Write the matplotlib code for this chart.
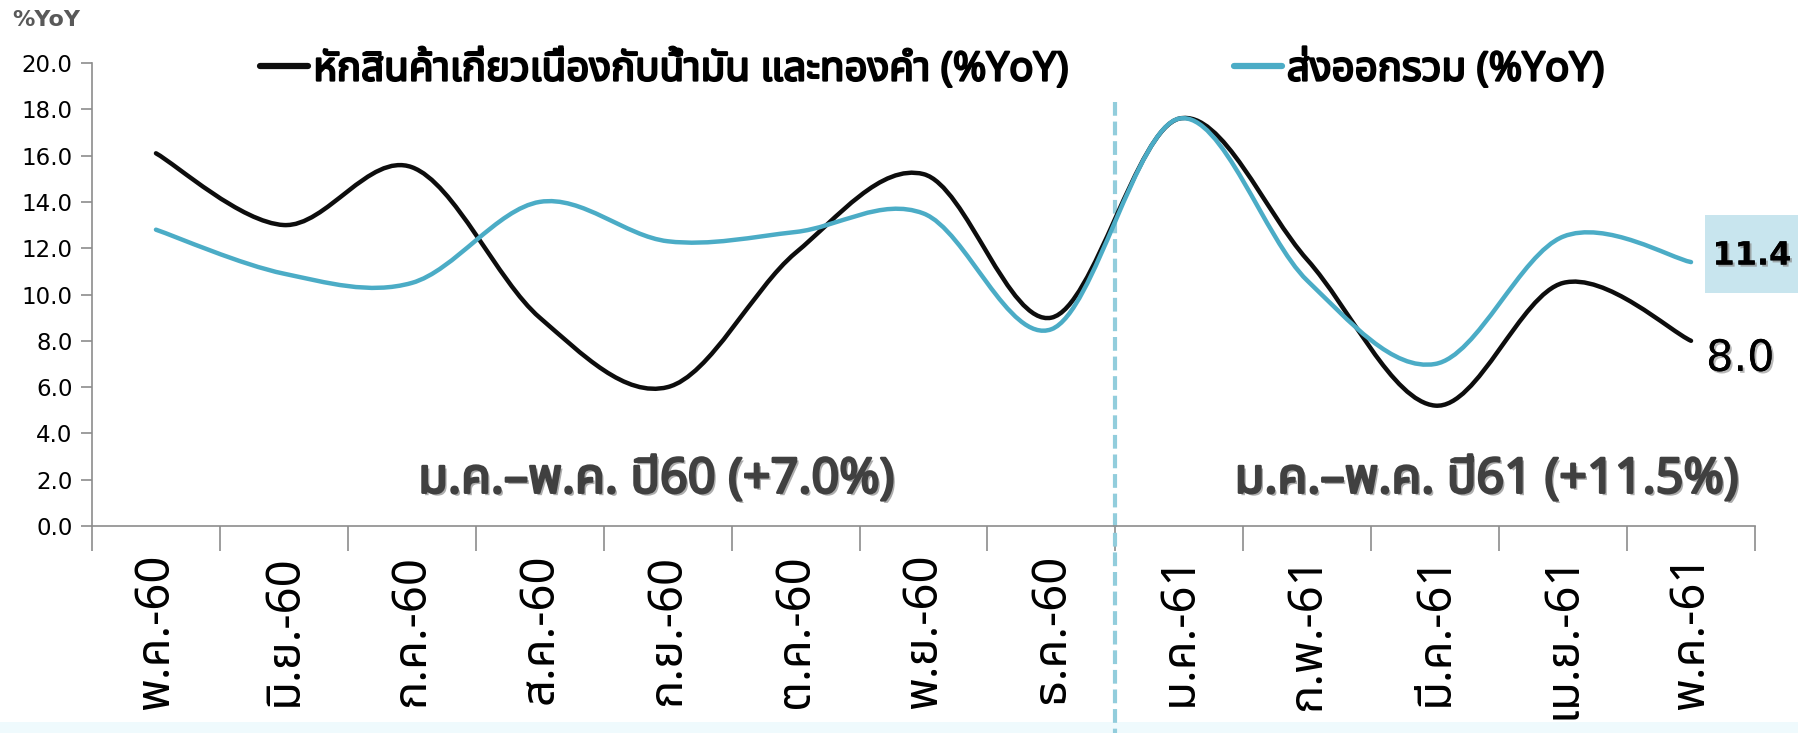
import numpy as np
import matplotlib
matplotlib.use('Agg')
import matplotlib.pyplot as plt
from matplotlib import font_manager, patheffects
from matplotlib.ft2font import FT2Font
from matplotlib.path import Path
from matplotlib.patches import PathPatch, Rectangle
from matplotlib.lines import Line2D

# data (%YoY)
months = ['พ.ค.-60', 'มิ.ย.-60', 'ก.ค.-60', 'ส.ค.-60', 'ก.ย.-60', 'ต.ค.-60',
          'พ.ย.-60', 'ธ.ค.-60', 'ม.ค.-61', 'ก.พ.-61', 'มี.ค.-61', 'เม.ย.-61',
          'พ.ค.-61']
ex_oil_gold = [16.1, 13.0, 15.5, 9.0, 6.0, 11.8, 15.2, 9.0, 17.6, 11.5, 5.2, 10.5, 8.0]
total_export = [12.8, 10.9, 10.5, 14.0, 12.3, 12.7, 13.5, 8.5, 17.6, 10.6, 7.0, 12.5, 11.4]

label_ex = 'หักสินค้าเกี่ยวเนื่องกับน้ำมัน และทองคำ (%YoY)'
label_total = 'ส่งออกรวม (%YoY)'
note_60 = 'ม.ค.–พ.ค. ปี60 (+7.0%)'
note_61 = 'ม.ค.–พ.ค. ปี61 (+11.5%)'
yticks = [0, 2, 4, 6, 8, 10, 12, 14, 16, 18, 20]

BLACK = '#0d0d0d'
BLUE = '#4bacc6'
DASH = '#92cddc'
BOX = '#c8e5ee'
GREY = '#404040'
W, H = 1798, 733


def find_thai_families():
    '''Families of installed fonts that have Thai glyphs.'''
    found = []
    for f in font_manager.fontManager.ttflist:
        try:
            cmap = FT2Font(f.fname).get_charmap()
        except Exception:
            continue
        if ord('ก') in cmap and ord('ำ') in cmap and f.name not in found:
            found.append(f.name)
    return found


thai = find_thai_families()
preferred = ['Noto Sans Thai', 'Noto Sans Thai UI', 'Loma', 'Garuda', 'Waree',
             'Sawasdee', 'Umpush', 'Kinnari', 'Norasi']
thai.sort(key=lambda n: preferred.index(n) if n in preferred else 99)
FAM = thai[:1] + ['DejaVu Sans']


def smooth_path(xs, ys):
    '''Excel-like smoothed line: cubic bezier through every point.'''
    pts = np.column_stack([xs, ys]).astype(float)
    n = len(pts)
    verts = [pts[0]]
    codes = [Path.MOVETO]
    for i in range(n - 1):
        p0 = pts[i - 1] if i > 0 else pts[i]
        p1 = pts[i]
        p2 = pts[i + 1]
        p3 = pts[i + 2] if i + 2 < n else pts[i + 1]
        verts += [p1 + (p2 - p0) / 6.0, p2 - (p3 - p1) / 6.0, p2]
        codes += [Path.CURVE4] * 3
    return Path(verts, codes)


def heavy(color, width=1.4, shadow=False):
    '''fake a bold weight with a stroke (the thai font has no bold face)'''
    eff = []
    if shadow:
        eff.append(patheffects.withSimplePatchShadow(offset=(1.8, -1.8),
                                                     shadow_rgbFace='#8a8a8a',
                                                     alpha=0.7))
    eff.append(patheffects.withStroke(linewidth=width, foreground=color))
    return eff


fig = plt.figure(figsize=(W / 100, H / 100), dpi=100)
fig.patches.append(Rectangle((0, 0), 1, 11 / H, transform=fig.transFigure,
                             fc='#effafd', ec='none', zorder=-2))
# highlighted value box for the latest total export figure
fig.patches.append(Rectangle((1705 / W, 1 - 293 / H), 93 / W, 78 / H,
                             transform=fig.transFigure, fc=BOX, ec='none',
                             zorder=-1))
ax = fig.add_axes([92 / W, 207 / H, 1663 / W, 463 / H])
ax.patch.set_visible(False)

x = np.arange(len(months))
for vals, col in [(ex_oil_gold, BLACK), (total_export, BLUE)]:
    ax.add_patch(PathPatch(smooth_path(x, vals), fc='none', ec=col, lw=3.2,
                           capstyle='round', zorder=3))

ax.set_xlim(-0.5, len(months) - 0.5)
ax.set_ylim(0, 20)

# divider between years
ax.plot([7.5, 7.5], [18.3, -9.2], color=DASH, lw=3, dashes=(3.3, 1.4),
        clip_on=False, zorder=2)

# axes styling
for s in ['top', 'right']:
    ax.spines[s].set_visible(False)
for s in ['left', 'bottom']:
    ax.spines[s].set_color('#8c8c8c')
    ax.spines[s].set_linewidth(1.2)
ax.set_yticks(yticks)
ax.set_yticklabels(['%.1f' % v for v in yticks], fontsize=16.5,
                   family='DejaVu Sans')
ax.tick_params(axis='y', length=8, width=1.2, color='#8c8c8c', pad=6)
ax.set_xticks(np.arange(-0.5, len(months), 1.0))
ax.set_xticklabels([])
ax.tick_params(axis='x', which='major', length=18, width=1.2, color='#8c8c8c')
ax.set_xticks(x, minor=True)
ax.set_xticklabels(months, minor=True, rotation=90, fontsize=34, family=FAM,
                   va='top', ha='center')
ax.tick_params(axis='x', which='minor', length=0, pad=20)

# legend
handles = [Line2D([], [], color=BLACK, lw=4.5, solid_capstyle='round'),
           Line2D([], [], color=BLUE, lw=4.5, solid_capstyle='round')]
leg = fig.legend(handles, [label_ex, label_total], ncol=2, frameon=False,
                 loc='center left', bbox_to_anchor=(240 / W, 1 - 70 / H),
                 borderpad=0, handlelength=1.2, handletextpad=0.12,
                 columnspacing=4.1,
                 prop=dict(family=FAM, size=29, weight='bold'))
for t in leg.get_texts():
    t.set_path_effects(heavy('black', 1.6))

fig.text(12 / W, 1 - 20 / H, '%YoY', fontsize=16, weight='bold',
         color='#595959', va='center', ha='left', family='DejaVu Sans')

for xc, txt in [(3.91, note_60), (10.4, note_61)]:
    ax.text(xc, 2.0, txt, ha='center', va='center', fontsize=35,
            weight='bold', color=GREY, family=FAM,
            path_effects=heavy(GREY, 1.8, shadow=True))

ax.annotate('%.1f' % ex_oil_gold[-1], xy=(x[-1], ex_oil_gold[-1]),
            xytext=(15, -18), textcoords='offset pixels', ha='left',
            va='center', fontsize=31, color='black', family='DejaVu Sans',
            path_effects=[patheffects.withSimplePatchShadow(
                offset=(1.5, -1.5), shadow_rgbFace='#9a9a9a', alpha=0.7),
                patheffects.Normal()],
            annotation_clip=False)

ax.annotate('%.1f' % total_export[-1], xy=(x[-1], total_export[-1]),
            xytext=(61, 6), textcoords='offset pixels', ha='center',
            va='center', fontsize=23, weight='bold', color='black',
            family='DejaVu Sans', zorder=5,
            path_effects=[patheffects.withSimplePatchShadow(
                offset=(1.5, -1.5), shadow_rgbFace='#8a8a8a', alpha=0.7),
                patheffects.Normal()],
            annotation_clip=False)

fig.savefig('out.png', dpi=100)
